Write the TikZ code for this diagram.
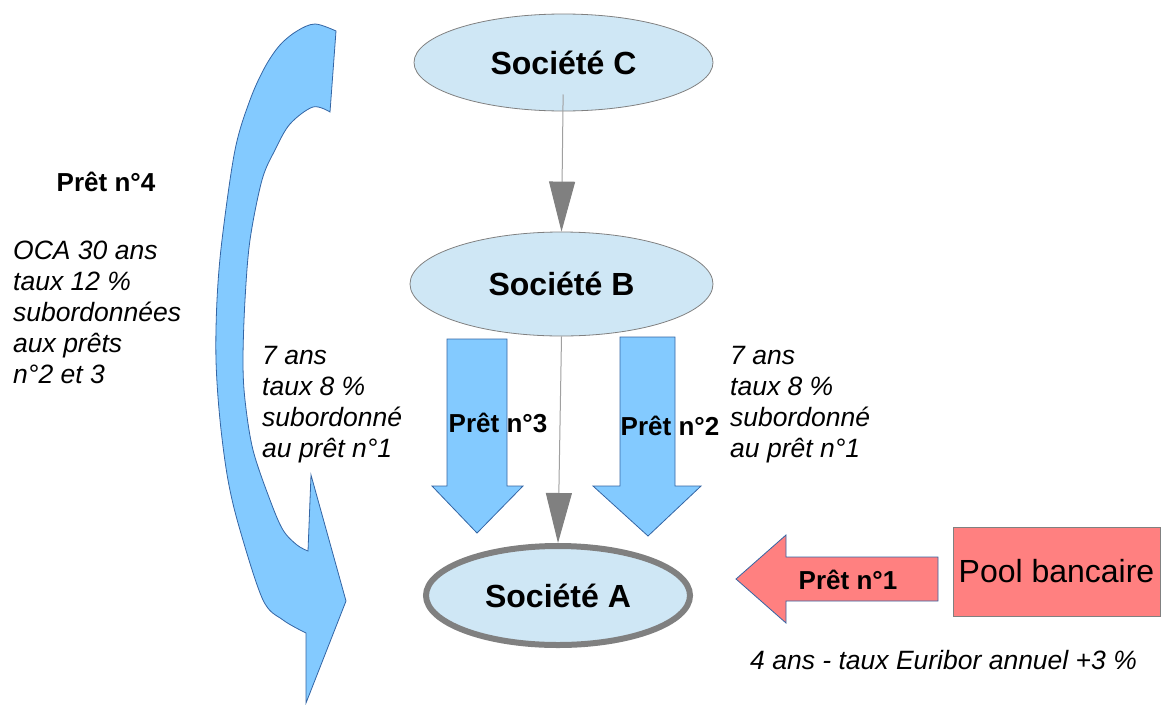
\documentclass[tikz,border=0pt]{standalone}
\usepackage{fontspec}
\setmainfont{Liberation Sans}
\usetikzlibrary{arrows.meta,shapes.geometric}
\definecolor{ellfill}{HTML}{CFE7F5}
\definecolor{ellline}{HTML}{808080}
\definecolor{bluefill}{HTML}{83CAFF}
\definecolor{blueline}{HTML}{3465A4}
\definecolor{redfill}{HTML}{FF8080}
\definecolor{connline}{HTML}{A0A0A0}
\definecolor{connhead}{HTML}{808080}
\tikzset{
  company/.style={ellipse, fill=ellfill, draw=ellline, line width=0.8pt, inner sep=0pt,
    font=\fontsize{32}{36}\selectfont\bfseries},
  conn/.style={draw=connline, line width=1pt,
    -{Triangle[width=26pt,length=50pt,fill=connhead,color=connhead]}},
  bluearrow/.style={fill=bluefill, draw=blueline, line width=0.8pt, line join=miter},
  redarrow/.style={fill=redfill, draw=blueline, line width=0.8pt},
  loanlabel/.style={font=\fontsize{26}{30}\selectfont\bfseries, inner sep=0pt},
  note/.style={font=\fontsize{26.5}{31}\selectfont\itshape, align=left, inner sep=0pt},
}
\begin{document}
\begin{tikzpicture}[x=1pt,y=-1pt]
\useasboundingbox (0,0) rectangle (1161,704);

% curved arrow (Prêt n°4)
\draw[bluearrow] plot[smooth, tension=0.55] coordinates {(336,31) (315,24) (297,31) (280,45) (265,67) (250,100) (235,150) (222,240) (217,300) (216,360) (220,420) (228,480) (240,530) (263,600) (283,620) (306,633)}
  -- (306,703) -- (346,601) -- (311,475) -- (308,551)
  -- plot[smooth, tension=0.55] coordinates {(308,551) (297,545) (283,530) (270,500) (253,450) (245,400) (243,360) (245,300) (250,240) (262,180) (275,150) (290,124) (313,107) (330,112)}
  -- cycle;

% block arrows Prêt n°3 and n°2
\draw[bluearrow] (447,339) -- (507,339) -- (507,486) -- (523,486) -- (477,533) -- (432,486) -- (447,486) -- cycle;
\draw[bluearrow] (620,337) -- (675,337) -- (675,486) -- (701,486) -- (648,536) -- (593,486) -- (620,486) -- cycle;
% block arrow Prêt n°1
\draw[redarrow] (938,557) -- (938,601) -- (786,601) -- (786,623) -- (736,579) -- (786,535) -- (786,557) -- cycle;

% companies
\node[company, minimum width=299pt, minimum height=97pt] (C) at (563.5,62.5) {Société C};
\node[company, minimum width=303pt, minimum height=104pt] (B) at (561.5,284) {Société B};
\node[company, draw=ellline, line width=6pt, minimum width=264pt, minimum height=99pt] (A) at (558,595.5) {Société A};
\node[rectangle, fill=redfill, draw=ellline, line width=0.8pt, minimum width=207pt, minimum height=89pt, inner sep=0pt,
  font=\fontsize{32}{36}\selectfont] (pool) at (1056.5,571.5) {Pool bancaire};

% connectors
\draw[conn, shorten <=32pt] (C.center) -- (B.north);
\draw[conn] (B.south) -- (A.north);

% loan labels
\node[loanlabel] (l3) at (498,423) {Prêt n°3};
\node[loanlabel] (l2) at (670,426) {Prêt n°2};
\node[loanlabel] (l1) at (848,580) {Prêt n°1};
\node[loanlabel, anchor=base] (l4) at (106,191) {Prêt n°4};

% notes (base anchor = baseline of last line)
\node[note, anchor=base west] (n4) at (13,383) {OCA 30 ans\\taux 12 \%\\subordonnées\\aux prêts\\n°2 et 3};
\node[note, anchor=base west] (n3) at (262,457) {7 ans\\taux 8 \%\\subordonné\\au prêt n°1};
\node[note, anchor=base west] (n2) at (730,457) {7 ans\\taux 8 \%\\subordonné\\au prêt n°1};
\node[note, anchor=base west] (n1) at (750,669) {4 ans - taux Euribor annuel +3 \%};
\end{tikzpicture}
\end{document}
